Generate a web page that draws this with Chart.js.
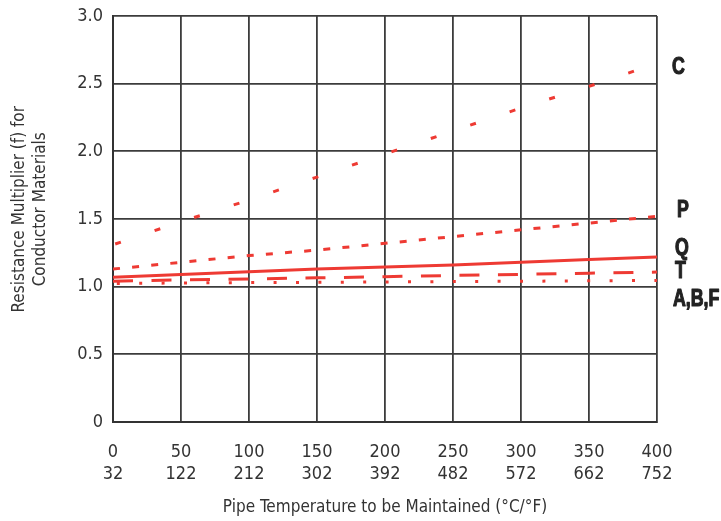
<!DOCTYPE html>
<html>
<head>
<meta charset="utf-8">
<script src="https://cdn.jsdelivr.net/npm/chart.js@4/dist/chart.umd.min.js"></script>
<style>
    body { margin: 0; background: #fff; }
    #wrap { width: 721px; height: 521px; }
</style>
</head>
<body>
<div id="wrap"><canvas id="resChart" width="721" height="521"></canvas></div>
<script>
// data
const tempC = [0, 50, 100, 150, 200, 250, 300, 350, 400];
const tempF = [32, 122, 212, 302, 392, 482, 572, 662, 752];
const yTicks = ['0', '0.5', '1.0', '1.5', '2.0', '2.5', '3.0'];
const seriesC = [1.31, 1.48, 1.64, 1.81, 1.98, 2.15, 2.32, 2.48, 2.65];
const seriesP = [1.13, 1.18, 1.23, 1.27, 1.32, 1.37, 1.42, 1.47, 1.52];
const seriesQ = [1.07, 1.09, 1.11, 1.13, 1.145, 1.16, 1.18, 1.20, 1.22];
const seriesT = [1.04, 1.05, 1.057, 1.065, 1.074, 1.083, 1.091, 1.10, 1.108];
const seriesABF = [1.024, 1.027, 1.03, 1.032, 1.035, 1.038, 1.04, 1.043, 1.046];

const RED = '#ee3a33';
const FONT = "'DejaVu Sans Condensed', 'Liberation Sans Narrow', 'Arial Narrow', sans-serif";
Chart.defaults.font.family = FONT;
Chart.defaults.color = '#333';

function pts(arr) {
    return tempC.map((t, i) => ({ x: t, y: arr[i] }));
}

function line(label, arr, dash, offset) {
    return {
        label: label,
        data: pts(arr),
        borderColor: RED,
        borderWidth: 3,
        borderDash: dash,
        borderDashOffset: offset || 0,
        pointRadius: 0,
        tension: 0,
        fill: false
    };
}

// letters at the right end of the curves (bold, squeezed to look condensed)
const sideLabels = {
    id: 'sideLabels',
    afterDraw(chart) {
        const ctx = chart.ctx;
        const y = chart.scales.y;
        const x0 = chart.chartArea.right;
        const items = [
            ['C', 2.638, 15],
            ['P', 1.576, 20],
            ['Q', 1.30, 18],
            ['T', 1.129, 18],
            ['A,B,F', 0.923, 16]
        ];
        ctx.save();
        ctx.font = 'bold 24px Arial, "Liberation Sans", sans-serif';
        ctx.fillStyle = '#222';
        ctx.strokeStyle = '#222';
        ctx.lineWidth = 1.2;
        ctx.lineJoin = 'round';
        ctx.textAlign = 'left';
        ctx.textBaseline = 'alphabetic';
        items.forEach(it => {
            ctx.save();
            ctx.translate(x0 + it[2], y.getPixelForValue(it[1]) + 8.6);
            ctx.scale(0.74, 1);
            ctx.fillText(it[0], 0, 0);
            ctx.strokeText(it[0], 0, 0);
            ctx.restore();
        });
        ctx.restore();
    }
};

const ctx = document.getElementById('resChart');
const pad = '\u00A0\u00A0\u00A0\u00A0';

new Chart(ctx, {
    type: 'line',
    data: {
        datasets: [
            line('C', seriesC, [6, 35.6], 39.3),
            line('P', seriesP, [7, 12.2]),
            line('Q', seriesQ, []),
            line('T', seriesT, [20, 18.5]),
            line('A,B,F', seriesABF, [3, 19.4], 18.6)
        ]
    },
    options: {
        responsive: false,
        animation: false,
        devicePixelRatio: 1,
        layout: {
            padding: { left: 0, top: 16, right: 64, bottom: 0 }
        },
        plugins: {
            legend: { display: false },
            tooltip: { enabled: false }
        },
        scales: {
            x: {
                type: 'linear',
                min: 0,
                max: 400,
                afterFit: s => { s.height = 99; s.paddingLeft = 0; s.paddingRight = 0; },
                ticks: {
                    stepSize: 50,
                    padding: 19,
                    color: '#333',
                    font: { size: 18, lineHeight: 1.22 },
                    callback: v => {
                        const i = tempC.indexOf(v);
                        return i < 0 ? '' : [String(tempC[i]), String(tempF[i])];
                    }
                },
                grid: { color: '#3c3c3c', lineWidth: 1.8, drawTicks: false },
                border: { color: '#333', width: 2 },
                title: {
                    display: true,
                    text: 'Pipe Temperature to be Maintained (°C/°F)',
                    color: '#333',
                    font: { size: 17, lineHeight: 1.2 },
                    padding: { top: 0, bottom: 3 }
                }
            },
            y: {
                min: 0,
                max: 3,
                afterFit: s => { s.width = 113; s.paddingTop = 0; s.paddingBottom = 0; },
                ticks: {
                    stepSize: 0.5,
                    padding: 10,
                    color: '#333',
                    font: { size: 18 },
                    callback: v => yTicks[Math.round(v * 2)]
                },
                grid: { color: '#3c3c3c', lineWidth: 1.8, drawTicks: false },
                border: { color: '#333', width: 2 },
                title: {
                    display: true,
                    text: [pad + 'Resistance Multiplier (f) for', pad + 'Conductor Materials'],
                    color: '#333',
                    font: { size: 17, lineHeight: 1.18 },
                    padding: { top: 10, bottom: 0 }
                }
            }
        }
    },
    plugins: [sideLabels]
});
</script>
</body>
</html>
